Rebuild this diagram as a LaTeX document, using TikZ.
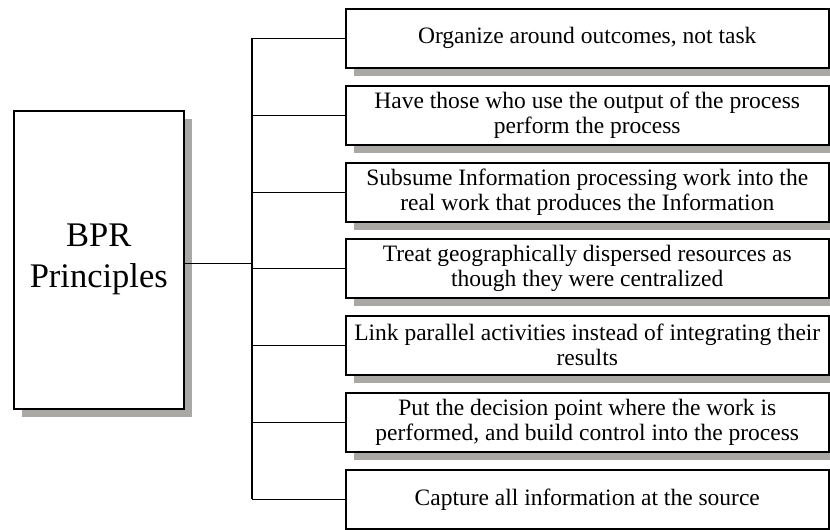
\documentclass[tikz,border=0pt]{standalone}
\usepackage{fontspec}
\setmainfont{Liberation Serif}
\usetikzlibrary{shadows}
\definecolor{shadowgray}{RGB}{170,168,165}
\begin{document}
\begin{tikzpicture}[x=1pt,y=-1pt,
  boxshadow/.style={drop shadow={shadow xshift=8pt, shadow yshift=-8pt, opacity=1, fill=shadowgray}},
  principle/.style={draw=black, line width=1.5pt, fill=white, boxshadow,
    rectangle, anchor=north west, inner sep=0pt,
    minimum width=483pt, minimum height=59pt, align=center,
    font=\fontsize{23.5}{25}\selectfont},
  mainbox/.style={draw=black, line width=1.5pt, fill=white, boxshadow,
    rectangle, anchor=north west, inner sep=0pt,
    minimum width=170pt, minimum height=298pt, align=center,
    font=\fontsize{34.5}{41}\selectfont},
  link/.style={draw=black, line width=1.3pt}]
\useasboundingbox (0,0) rectangle (830,530);

% root box
\node[mainbox] (bpr) at (13,110) {BPR\\Principles};

% the seven principles
\node[principle] (p1) at (345,8)   {Organize around outcomes, not task};
\node[principle] (p2) at (345,85)  {Have those who use the output of the process\\perform the process};
\node[principle] (p3) at (345,162) {Subsume Information processing work into the\\real work that produces the Information};
\node[principle] (p4) at (345,238) {Treat geographically dispersed resources as\\though they were centralized};
\node[principle] (p5) at (345,315) {Link parallel activities instead of integrating their\\results};
\node[principle] (p6) at (345,392) {Put the decision point where the work is\\performed, and build control into the process};
\node[principle] (p7) at (345,469) {Capture all information at the source};

% connector tree
\coordinate (jt) at (252,0);
\draw[link] (p1.west -| jt) -- (p7.west -| jt);
\draw[link] ([yshift=-4pt]bpr.east) -- ([yshift=-4pt]bpr.east -| jt);
\foreach \i in {1,...,7} {
  \draw[link] (p\i.west -| jt) -- (p\i.west);
}
\end{tikzpicture}
\end{document}
